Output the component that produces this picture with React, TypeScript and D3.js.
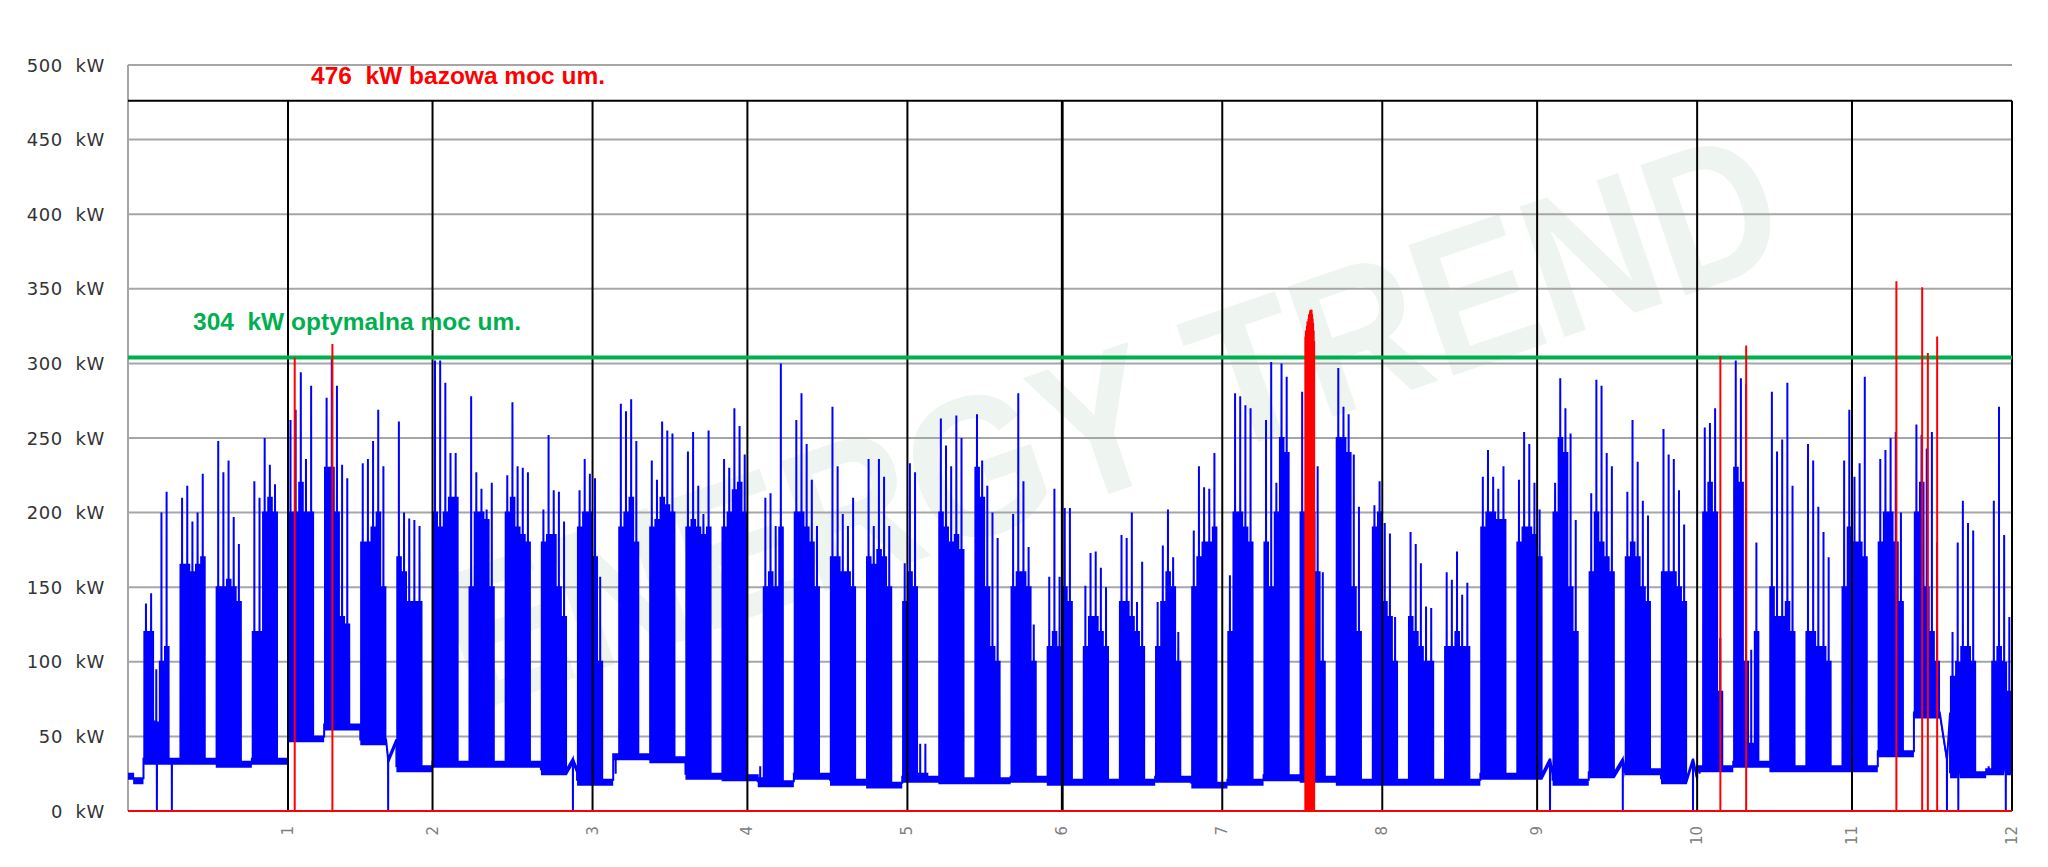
import { useMemo } from 'react'
import * as d3 from 'd3'

// y axis ticks (kW) and month boundary ticks (day of year)
const yTicks = [0, 50, 100, 150, 200, 250, 300, 350, 400, 450, 500]
const monthEnds = [31, 59, 90, 120, 151, 181, 212, 243, 273, 304, 334, 365]
const monthLabels = ['1', '2', '3', '4', '5', '6', '7', '8', '9', '10', '11', '12']

const BASE_POWER = 476
const OPTIMAL_POWER = 304

// Jan 1-3 (holiday + first weekend), kW
const leadDays = [25, 22, 22]
const firstMonday = 3

// daily maximum (kW) for the five workdays of every week, Mon..Fri
const workPeak = [
  [139, 146, 95, 200, 214],
  [210, 218, 194, 200, 226],
  [248, 227, 235, 197, 179],
  [221, 210, 250, 232, 219],
  [262, 269, 294, 236, 285],
  [277, 303, 285, 232, 223],
  [233, 236, 248, 269, 231],
  [261, 200, 196, 195, 191],
  [302, 302, 287, 240, 240],
  [278, 227, 216, 202, 220],
  [225, 274, 231, 230, 227],
  [202, 252, 215, 214, 194],
  [215, 236, 226, 223, 157],
  [25, 273, 268, 276, 248],
  [235, 222, 261, 255, 253],
  [241, 254, 218, 199, 255],
  [236, 230, 270, 258, 239],
  [30, 210, 213, 191, 300],
  [262, 280, 246, 222, 191],
  [271, 231, 199, 191, 210],
  [236, 191, 236, 224, 191],
  [166, 233, 227, 45, 45],
  [263, 245, 231, 265, 250],
  [266, 235, 218, 200, 183],
  [199, 280, 221, 177, 125],
  [157, 216, 157, 203, 203],
  [151, 173, 174, 163, 150],
  [185, 183, 200, 140, 167],
  [140, 178, 202, 170, 120],
  [188, 231, 217, 216, 240],
  [158, 280, 278, 272, 270],
  [262, 301, 220, 300, 291],
  [281, 250, 281, 231, 160],
  [297, 271, 266, 239, 204],
  [205, 221, 193, 186, 130],
  [187, 179, 166, 137, 136],
  [160, 155, 174, 145, 153],
  [224, 242, 224, 216, 231],
  [222, 254, 246, 220, 202],
  [220, 290, 270, 253, 195],
  [213, 289, 285, 240, 231],
  [214, 262, 234, 208, 198],
  [256, 239, 236, 215, 192],
  [25, 257, 260, 270, 116],
  [302, 290, 286, 108, 180],
  [281, 241, 249, 287, 218],
  [246, 235, 204, 187, 170],
  [235, 269, 224, 233, 291],
  [236, 242, 250, 254, 200],
  [259, 252, 243, 254, 180],
  [120, 180, 208, 193, 188],
  [30, 208, 271, 185, 130],
]

// typical daytime load (kW) for the same workdays
const workBody = [
  [120, 120, 60, 100, 110],
  [165, 165, 160, 165, 170],
  [150, 150, 155, 150, 140],
  [120, 120, 200, 210, 200],
  [200, 200, 220, 200, 200],
  [230, 230, 200, 130, 125],
  [180, 180, 190, 200, 150],
  [170, 160, 140, 140, 140],
  [200, 190, 200, 210, 210],
  [150, 200, 200, 195, 150],
  [200, 210, 190, 185, 180],
  [180, 185, 185, 150, 130],
  [190, 200, 200, 170, 100],
  [20, 190, 200, 210, 180],
  [190, 195, 210, 205, 200],
  [190, 195, 190, 185, 190],
  [190, 200, 215, 220, 200],
  [22, 150, 160, 150, 190],
  [200, 200, 190, 180, 150],
  [170, 170, 160, 160, 150],
  [170, 165, 175, 170, 150],
  [140, 160, 150, 25, 25],
  [200, 190, 180, 185, 175],
  [230, 210, 150, 110, 100],
  [150, 160, 160, 150, 100],
  [110, 120, 110, 150, 140],
  [110, 130, 130, 120, 110],
  [140, 140, 130, 120, 110],
  [110, 140, 160, 150, 100],
  [150, 170, 180, 180, 190],
  [120, 200, 200, 190, 180],
  [180, 150, 200, 250, 240],
  [200, 180, 200, 160, 100],
  [250, 250, 240, 150, 120],
  [190, 200, 140, 130, 100],
  [130, 120, 110, 100, 100],
  [110, 110, 120, 110, 110],
  [190, 200, 200, 195, 195],
  [180, 190, 190, 185, 170],
  [200, 250, 240, 150, 120],
  [160, 200, 180, 170, 160],
  [170, 180, 170, 150, 140],
  [160, 160, 160, 150, 140],
  [22, 200, 220, 200, 80],
  [230, 220, 100, 45, 120],
  [150, 130, 130, 140, 120],
  [120, 120, 110, 110, 100],
  [150, 190, 180, 180, 170],
  [180, 200, 200, 180, 140],
  [200, 220, 150, 120, 100],
  [90, 100, 110, 110, 100],
  [25, 100, 110, 100, 80],
]

// night / weekend base load per week (kW)
const weekBase = [
  35, 35, 33, 35, 50, 58, 48, 30, 33, 33, 33, 28, 21, 38, 36, 25, 24, 20, 25, 21,
  19, 23, 22, 22, 23, 21, 21, 21, 23, 19, 21, 24, 23, 21, 21, 21, 21, 25, 25, 21,
  26, 28, 22, 30, 33, 30, 30, 30, 40, 66, 26, 28,
]

// moments where the meter reading fell to zero (day of year)
const zeroDips = [5.6, 8.5, 50.4, 86.2, 275.5, 289.6, 303.2, 352.4, 354.6, 363.8]

// exceedance readings drawn in red: [day of year, kW]
const redSpikes: [number, number][] = [
  [32.3, 304], [39.6, 313],
  [228.1, 318], [228.2, 322], [228.3, 320], [228.4, 325], [228.5, 328], [228.6, 326],
  [228.7, 330], [228.8, 333], [228.9, 332], [229.0, 335], [229.1, 336], [229.2, 334],
  [229.3, 336], [229.4, 333], [229.5, 330], [229.6, 327], [229.7, 322], [229.8, 315],
  [308.5, 305], [313.5, 312], [342.6, 355], [347.6, 351], [348.7, 307], [350.5, 318],
]

type Pt = { t: number; v: number; b: number }

function buildSeries(): Pt[] {
  const pts: Pt[] = []
  leadDays.forEach((b, i) => {
    pts.push({ t: i, v: b, b })
    pts.push({ t: i + 1, v: b, b })
  })
  workPeak.forEach((peaks, w) => {
    const b = weekBase[w]
    const monday = firstMonday + 7 * w
    peaks.forEach((p, i) => {
      const d = monday + i
      const body = Math.max(workBody[w][i], b)
      pts.push({ t: d, v: b, b })
      pts.push({ t: d + 0.16, v: b, b })
      pts.push({ t: d + 0.17, v: body, b })
      pts.push({ t: d + 0.47, v: body, b })
      pts.push({ t: d + 0.48, v: p, b })
      pts.push({ t: d + 0.49, v: body, b })
      pts.push({ t: d + 0.86, v: body, b })
      pts.push({ t: d + 0.87, v: b, b })
    })
    const sat = monday + 5
    if (sat < 365) {
      pts.push({ t: sat, v: b, b })
      pts.push({ t: Math.min(sat + 2, 365), v: b, b })
    }
  })
  zeroDips.forEach((t) => {
    const prev = pts.filter((p) => p.t <= t).pop() || pts[0]
    const lvl = prev.b
    pts.push({ t: t - 0.02, v: lvl, b: lvl })
    pts.push({ t, v: 0, b: lvl })
    pts.push({ t: t + 0.02, v: lvl, b: lvl })
  })
  return pts
    .map((p, i) => ({ p, i }))
    .sort((a, c) => a.p.t - c.p.t || a.i - c.i)
    .map((e) => e.p)
}

export default function App() {
  const width = 2048
  const height = 867

  const x = d3.scaleLinear().domain([0, 365]).range([128, 2012])
  const y = d3.scaleLinear().domain([0, 500]).range([811, 65])

  const series = useMemo(buildSeries, [])

  // the night/weekend level is drawn as a band a few kW thick
  const area = d3.area<Pt>()
    .x((d) => x(d.t))
    .y0((d) => y(Math.max(d.b - 4, 0)))
    .y1((d) => y(d.v))
  const line = d3.line<Pt>()
    .x((d) => x(d.t))
    .y((d) => y(d.v))

  return (
    <svg
      width={width}
      height={height}
      style={{ position: 'absolute', left: 0, top: 0, background: '#fff' }}
    >
      <rect width={width} height={height} fill="#ffffff" />

      {/* watermark */}
      <g transform="translate(1110,420) rotate(-19)">
        <text
          textAnchor="middle"
          dominantBaseline="central"
          fontFamily="Liberation Sans, Arial, sans-serif"
          fontWeight="bold"
          fontSize={200}
          textLength={1400}
          lengthAdjust="spacingAndGlyphs"
          fill="#eef4ef"
        >
          ENERGY TREND
        </text>
      </g>

      {/* gridlines */}
      {yTicks.map((v) => (
        <line key={v} x1={x(0)} x2={x(365)} y1={y(v)} y2={y(v)} stroke="#a6a6a6" strokeWidth={2} />
      ))}
      <line x1={x(0)} x2={x(0)} y1={y(500)} y2={y(0)} stroke="#a6a6a6" strokeWidth={2} />

      {/* base contracted power */}
      <line x1={x(0)} x2={x(365)} y1={y(BASE_POWER)} y2={y(BASE_POWER)} stroke="#000" strokeWidth={2} />

      {/* load profile */}
      <path d={area(series) || ''} fill="#0000ff" />
      <path d={line(series) || ''} fill="none" stroke="#0000ff" strokeWidth={2} strokeLinejoin="miter" />

      {/* month boundaries */}
      {monthEnds.map((d, i) => (
        <line
          key={d}
          x1={x(d)}
          x2={x(d)}
          y1={y(BASE_POWER)}
          y2={y(0)}
          stroke="#000"
          strokeWidth={i === 5 ? 2.8 : 2}
        />
      ))}

      {/* optimal contracted power */}
      <line x1={x(0)} x2={x(365)} y1={y(OPTIMAL_POWER)} y2={y(OPTIMAL_POWER)} stroke="#00b050" strokeWidth={4} />

      {/* exceedances */}
      {redSpikes.map(([t, v], i) => (
        <line key={i} x1={x(t)} x2={x(t)} y1={y(0)} y2={y(v)} stroke="#ff0000" strokeWidth={2} />
      ))}
      <line x1={x(0)} x2={x(365)} y1={y(0)} y2={y(0)} stroke="#ff0000" strokeWidth={2} />

      {/* y axis labels */}
      {yTicks.map((v) => (
        <text
          key={v}
          x={105}
          y={y(v)}
          textAnchor="end"
          dominantBaseline="central"
          fontFamily="DejaVu Sans, Verdana, sans-serif"
          fontSize={18}
          letterSpacing={0.6}
          fill="#333"
          style={{ whiteSpace: 'pre' }}
        >
          {`${v}  kW`}
        </text>
      ))}

      {/* x axis labels */}
      {monthEnds.map((d, i) => (
        <text
          key={d}
          transform={`translate(${x(d)},826) rotate(-90)`}
          textAnchor="end"
          dominantBaseline="central"
          fontFamily="DejaVu Sans, Verdana, sans-serif"
          fontSize={15}
          fill="#808080"
        >
          {monthLabels[i]}
        </text>
      ))}

      {/* annotations */}
      <text
        x={311}
        y={84}
        fontFamily="Liberation Sans, Arial, sans-serif"
        fontWeight="bold"
        fontSize={24.5}
        fill="#ff0000"
        style={{ whiteSpace: 'pre' }}
      >
        {`${BASE_POWER}  kW bazowa moc um.`}
      </text>
      <text
        x={193}
        y={330}
        fontFamily="Liberation Sans, Arial, sans-serif"
        fontWeight="bold"
        fontSize={24.5}
        fill="#00b050"
        style={{ whiteSpace: 'pre' }}
      >
        {`${OPTIMAL_POWER}  kW optymalna moc um.`}
      </text>
    </svg>
  )
}
